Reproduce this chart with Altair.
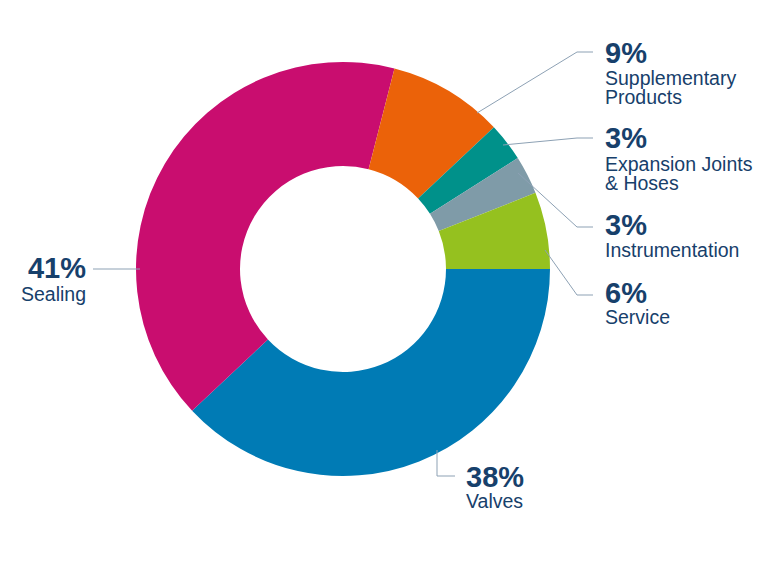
import math
import altair as alt
import pandas as pd

# ---- data ----
categories = ["Valves", "Sealing", "Supplementary Products", "Expansion Joints & Hoses",
              "Instrumentation", "Service"]
shares = [38, 41, 9, 3, 3, 6]
pct_labels = ["38%", "41%", "9%", "3%", "3%", "6%"]
name_labels = ["Valves", "Sealing", "Supplementary\nProducts", "Expansion Joints\n& Hoses",
               "Instrumentation", "Service"]
colors = ["#007BB5", "#C90D6F", "#EB6209", "#00918A", "#7F9BA8", "#95C11F"]

# ---- layout (pixel positions of annotations) ----
pct_x = [466, 86, 605, 605, 605, 605]
pct_y = [487, 278, 63, 148, 235, 303]
name_y = [508, 301, 85, 171, 257, 324]
align = ["left", "right", "left", "left", "left", "left"]
leaders = {
    "Valves": [(437, 450), (437, 476), (455, 476)],
    "Sealing": [(93, 269), (140, 269)],
    "Supplementary Products": [(477, 113), (577, 52), (593, 52)],
    "Expansion Joints & Hoses": [(503, 145), (577, 138), (593, 138)],
    "Instrumentation": [(518, 173), (577, 227), (593, 227)],
    "Service": [(545, 250), (577, 295), (593, 295)],
}
CX, CY = 343, 269
TEXT = "#17406B"
FONT = "Liberation Sans"

df = pd.DataFrame({
    "category": categories,
    "share": shares,
    "ord": list(range(len(categories))),
    "pct": pct_labels,
    "name": name_labels,
    "px": pct_x,
    "py": pct_y,
    "ny": name_y,
    "align": align,
})

rows = []
for cat, pts in leaders.items():
    for i, (x, y) in enumerate(pts):
        rows.append({"category": cat, "i": i, "x": x, "y": y})
lines_df = pd.DataFrame(rows)

donut = alt.Chart(df).mark_arc(outerRadius=207, innerRadius=103).encode(
    theta=alt.Theta("share:Q", stack=True,
                    scale=alt.Scale(range=[math.pi / 2, math.pi / 2 + 2 * math.pi])),
    order=alt.Order("ord:Q"),
    color=alt.Color("category:N", scale=alt.Scale(domain=categories, range=colors), legend=None),
    x=alt.value(CX),
    y=alt.value(CY),
)

leader = alt.Chart(lines_df).mark_line(color="#8DA1B4", strokeWidth=1).encode(
    x=alt.X("x:Q", scale=None),
    y=alt.Y("y:Q", scale=None),
    detail="category:N",
    order="i:Q",
)

left_df = df[df["align"] == "left"]
right_df = df[df["align"] == "right"]

def texts(d, al):
    p = alt.Chart(d).mark_text(align=al, baseline="alphabetic", font=FONT, fontSize=29,
                               fontWeight="bold", color=TEXT).encode(
        x=alt.X("px:Q", scale=None), y=alt.Y("py:Q", scale=None), text="pct:N")
    n = alt.Chart(d).mark_text(align=al, baseline="alphabetic", font=FONT, fontSize=19.5,
                               lineHeight=18.5, lineBreak="\n", color=TEXT).encode(
        x=alt.X("px:Q", scale=None), y=alt.Y("ny:Q", scale=None), text="name:N")
    return p + n

chart = alt.layer(donut, leader, texts(left_df, "left"), texts(right_df, "right")).properties(
    width=768, height=576, padding=0, autosize="none"
).configure_view(stroke=None)

chart.save("out.html", embed_options={"renderer": "svg", "actions": False})
